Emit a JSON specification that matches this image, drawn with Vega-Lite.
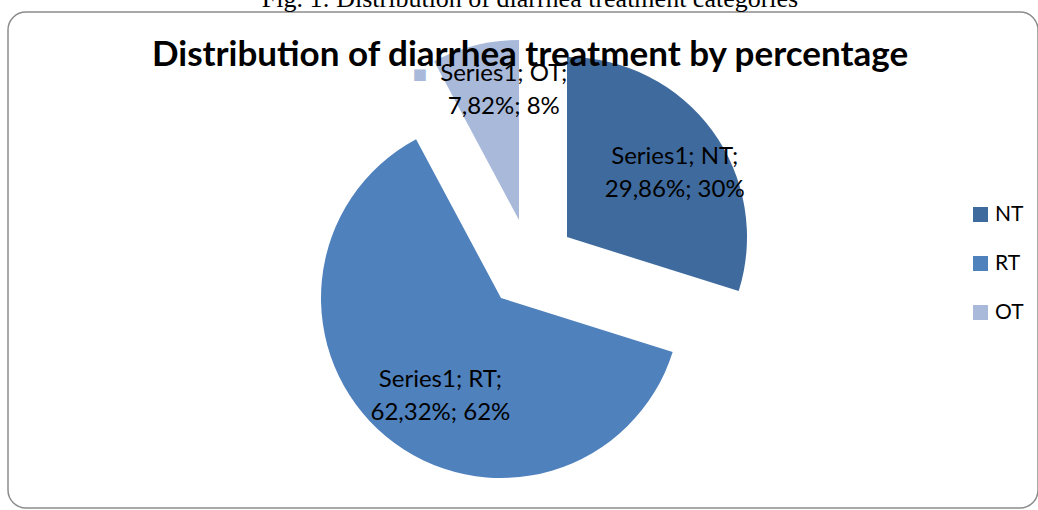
{
  "$schema": "https://vega.github.io/schema/vega-lite/v6.json",
  "autosize": "none",
  "width": 1030,
  "height": 496,
  "padding": {"left": 8, "top": 12, "right": 0, "bottom": 2},
  "background": "white",
  "config": {
    "view": {"stroke": null},
    "font": "Lato"
  },
  "title": {
    "text": "Fig. 1: Distribution of diarrhea treatment categories",
    "subtitle": "Distribution of diarrhea treatment by percentage",
    "font": "Liberation Serif",
    "fontSize": 26,
    "fontWeight": "normal",
    "color": "black",
    "subtitleFont": "Lato",
    "subtitleFontSize": 35,
    "subtitleFontWeight": "bold",
    "subtitleColor": "black",
    "subtitlePadding": 26,
    "anchor": "middle",
    "frame": "group",
    "offset": -62,
    "dx": 7
  },
  "data": {
    "values": [
      {"cat": "NT", "value": 29.86, "ord": 1, "label": "Series1; NT;\n29,86%; 30%"},
      {"cat": "RT", "value": 62.32, "ord": 2, "label": "Series1; RT;\n62,32%; 62%"},
      {"cat": "OT", "value": 7.82, "ord": 3, "label": "Series1; OT;\n7,82%; 8%"}
    ]
  },
  "layer": [
    {
      "transform": [{"filter": "datum.cat === 'NT'"}],
      "mark": {"type": "rect", "fill": null, "fillOpacity": 0, "stroke": "#8c8c8c", "strokeWidth": 1.5, "cornerRadius": 18},
      "encoding": {}
    },
    {
      "transform": [
        {"stack": "value", "groupby": [], "sort": [{"field": "ord", "order": "ascending"}], "as": ["v0", "v1"]},
        {"filter": "datum.cat === 'NT'"}
      ],
      "mark": {"type": "arc", "outerRadius": 180, "xOffset": 44, "yOffset": -23},
      "encoding": {
        "theta": {"field": "v0", "type": "quantitative", "scale": {"domain": [0, 100]}},
        "theta2": {"field": "v1"},
        "color": {"field": "cat", "type": "nominal", "scale": {"domain": ["NT", "RT", "OT"], "range": ["#3F6A9D", "#4F81BD", "#A8B9DA"]},
          "legend": {"title": null, "orient": "none", "legendX": 962, "legendY": 192, "padding": 0, "symbolType": "square", "symbolSize": 225, "symbolStrokeWidth": 0, "labelFont": "Lato", "labelFontSize": 21, "labelColor": "black", "labelOffset": 4, "rowPadding": 27}}
      }
    },
    {
      "transform": [
        {"stack": "value", "groupby": [], "sort": [{"field": "ord", "order": "ascending"}], "as": ["v0", "v1"]},
        {"filter": "datum.cat === 'RT'"}
      ],
      "mark": {"type": "arc", "outerRadius": 180, "xOffset": -22, "yOffset": 38},
      "encoding": {
        "theta": {"field": "v0", "type": "quantitative", "scale": {"domain": [0, 100]}},
        "theta2": {"field": "v1"},
        "color": {"field": "cat", "type": "nominal"}
      }
    },
    {
      "transform": [
        {"stack": "value", "groupby": [], "sort": [{"field": "ord", "order": "ascending"}], "as": ["v0", "v1"]},
        {"filter": "datum.cat === 'OT'"}
      ],
      "mark": {"type": "arc", "outerRadius": 180, "xOffset": -4, "yOffset": -40},
      "encoding": {
        "theta": {"field": "v0", "type": "quantitative", "scale": {"domain": [0, 100]}},
        "theta2": {"field": "v1"},
        "color": {"field": "cat", "type": "nominal"}
      }
    },
    {
      "mark": {"type": "text", "radius": 120, "xOffset": 55, "yOffset": -32, "font": "Lato", "fontSize": 24, "lineBreak": "\n", "lineHeight": 33, "align": "center", "baseline": "middle", "color": "black"},
      "encoding": {
        "theta": {"field": "value", "type": "quantitative", "stack": true, "scale": {"domain": [0, 100]}},
        "order": {"field": "ord"},
        "text": {"condition": {"test": "datum.cat === 'NT'", "field": "label"}, "value": ""}
      }
    },
    {
      "mark": {"type": "text", "radius": 120, "xOffset": -6, "yOffset": 28, "font": "Lato", "fontSize": 24, "lineBreak": "\n", "lineHeight": 33, "align": "center", "baseline": "middle", "color": "black"},
      "encoding": {
        "theta": {"field": "value", "type": "quantitative", "stack": true, "scale": {"domain": [0, 100]}},
        "order": {"field": "ord"},
        "text": {"condition": {"test": "datum.cat === 'RT'", "field": "label"}, "value": ""}
      }
    },
    {
      "mark": {"type": "text", "radius": 120, "xOffset": 10, "yOffset": -70, "font": "Lato", "fontSize": 24, "lineBreak": "\n", "lineHeight": 33, "align": "center", "baseline": "middle", "color": "black"},
      "encoding": {
        "theta": {"field": "value", "type": "quantitative", "stack": true, "scale": {"domain": [0, 100]}},
        "order": {"field": "ord"},
        "text": {"condition": {"test": "datum.cat === 'OT'", "field": "label"}, "value": ""}
      }
    },
    {
      "mark": {"type": "text", "radius": 120, "xOffset": -74, "yOffset": -70, "font": "DejaVu Sans", "fontSize": 15, "align": "center", "baseline": "middle", "color": "#A8B9DA"},
      "encoding": {
        "theta": {"field": "value", "type": "quantitative", "stack": true, "scale": {"domain": [0, 100]}},
        "order": {"field": "ord"},
        "text": {"condition": {"test": "datum.cat === 'OT'", "value": "■"}, "value": ""}
      }
    }
  ]
}
